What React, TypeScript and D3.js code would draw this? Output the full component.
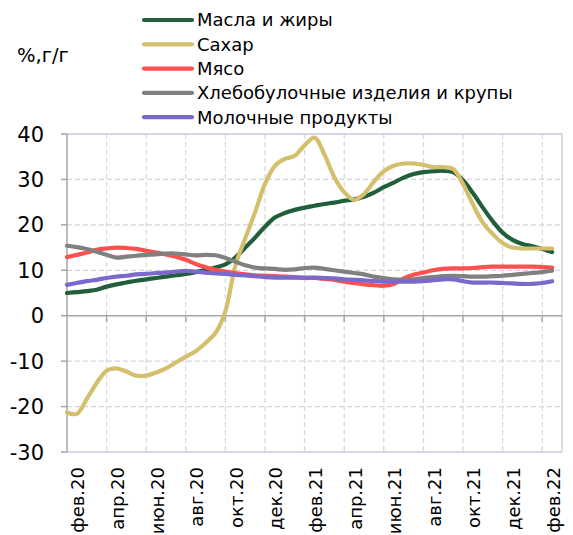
import React from "react";
import * as d3 from "d3";

const W = 573;
const H = 535;

// time index: 0 = фев.20, sampled every half month
const T = d3.range(-0.5, 24.01, 0.5);

const monthLabels = ["фев.20","апр.20","июн.20","авг.20","окт.20","дек.20","фев.21","апр.21","июн.21","авг.21","окт.21","дек.21","фев.22"];
const yTicks = [-30, -20, -10, 0, 10, 20, 30, 40];

const oils = [5.0,5.2,5.4,5.7,6.4,6.9,7.3,7.7,8.0,8.3,8.6,8.9,9.2,9.6,10.1,10.6,11.3,12.8,15.0,17.2,19.6,21.6,22.6,23.3,23.8,24.2,24.6,24.9,25.3,25.6,26.2,27.1,28.3,29.3,30.4,31.2,31.6,31.8,31.9,31.6,29.8,27.0,23.8,20.8,18.3,16.7,15.8,15.3,14.7,14.0];
const sugar = [-21.3,-21.6,-18.3,-14.8,-12.1,-11.6,-12.3,-13.2,-13.2,-12.5,-11.6,-10.3,-9.0,-7.8,-6.0,-3.8,1.0,11.0,17.0,22.8,29.0,33.0,34.5,35.2,37.5,39.2,35.5,30.5,27.2,25.5,26.8,29.5,31.8,33.0,33.5,33.5,33.2,32.7,32.7,32.3,29.0,24.5,20.5,18.0,16.0,15.0,14.8,14.8,14.8,14.8];
const meat = [12.9,13.4,13.9,14.5,14.8,15.0,14.9,14.7,14.3,13.9,13.5,13.0,12.3,11.4,10.7,10.1,9.7,9.4,9.1,8.9,8.8,8.7,8.6,8.5,8.3,8.3,8.1,7.9,7.5,7.2,6.9,6.7,6.6,7.0,8.2,9.0,9.5,10.0,10.3,10.4,10.4,10.5,10.7,10.8,10.8,10.8,10.8,10.8,10.7,10.6];
const bread = [15.4,15.1,14.7,14.1,13.4,12.8,13.0,13.2,13.4,13.5,13.7,13.7,13.5,13.3,13.4,13.3,12.7,11.9,11.1,10.6,10.4,10.3,10.1,10.2,10.5,10.6,10.3,10.0,9.7,9.4,9.1,8.6,8.3,8.0,7.9,8.0,8.3,8.5,8.7,8.8,8.7,8.6,8.6,8.7,8.8,9.0,9.2,9.4,9.6,9.9];
const dairy = [6.8,7.2,7.6,7.9,8.3,8.6,8.8,9.1,9.2,9.4,9.5,9.7,9.9,9.7,9.5,9.3,9.2,9.0,8.9,8.7,8.5,8.4,8.4,8.4,8.4,8.4,8.3,8.2,8.0,7.9,7.8,7.6,7.5,7.5,7.5,7.5,7.6,7.8,8.0,8.0,7.6,7.3,7.3,7.3,7.2,7.1,7.0,7.0,7.2,7.6];

const seriesNames = ["Масла и жиры", "Сахар", "Мясо", "Хлебобулочные изделия и крупы", "Молочные продукты"];
const seriesValues = [oils, sugar, meat, bread, dairy];
const seriesColors = ["#215E3B", "#D4BF6C", "#FF5050", "#808080", "#7B68CC"];

const FONT = "'DejaVu Sans', 'Open Sans', sans-serif";

export default function App() {
  const left = 67, right = 562, top = 134, bottom = 452;
  const x = d3.scaleLinear().domain([-0.5, 24.5]).range([left, right]);
  const y = d3.scaleLinear().domain([-30, 40]).range([bottom, top]);
  const line = d3.line<number>()
    .x((_, i) => x(T[i]))
    .y((d) => y(d))
    .curve(d3.curveCatmullRom.alpha(0.5));

  const gridX = d3.range(0, 13).map((k) => -0.5 + 2 * k);

  return (
    <svg width={W} height={H} style={{ position: "absolute", left: 0, top: 0, background: "#fff" }}
      fontFamily={FONT}>
      {/* horizontal dashed grid */}
      {yTicks.filter((v) => v !== 0 && v !== -30 && v !== 40).map((v) => (
        <line key={"h" + v} x1={left} x2={right} y1={y(v)} y2={y(v)} stroke="#CED5E4" strokeWidth={1.3} strokeDasharray="5,3" />
      ))}
      {/* vertical dashed grid */}
      {gridX.slice(1).map((t) => (
        <line key={"v" + t} x1={x(t)} x2={x(t)} y1={top} y2={bottom} stroke="#D9D9D9" strokeWidth={1.3} strokeDasharray="5,3" />
      ))}
      {/* plot border */}
      <line x1={left} x2={right} y1={top} y2={top} stroke="#CCC6DA" strokeWidth={1.3} />
      <line x1={right} x2={right} y1={top} y2={bottom} stroke="#CCC6DA" strokeWidth={1.3} />
      <line x1={left} x2={right} y1={bottom} y2={bottom} stroke="#CCC6DA" strokeWidth={1.3} />
      {/* zero axis with ticks */}
      <line x1={left} x2={right} y1={y(0)} y2={y(0)} stroke="#A6A6A6" strokeWidth={1.5} />
      {gridX.slice(1).map((t) => (
        <line key={"xt" + t} x1={x(t)} x2={x(t)} y1={y(0)} y2={y(0) + 6} stroke="#A6A6A6" strokeWidth={1.5} />
      ))}
      {/* y axis */}
      <line x1={left} x2={left} y1={top} y2={bottom} stroke="#A6A6A6" strokeWidth={1.5} />
      {yTicks.map((v) => (
        <g key={"yt" + v}>
          <line x1={left - 6} x2={left} y1={y(v)} y2={y(v)} stroke="#A6A6A6" strokeWidth={1.5} />
          <text x={44} y={y(v)} dy="0.36em" textAnchor="end" fontSize={21} fill="#000">{v}</text>
        </g>
      ))}
      {/* x labels */}
      {monthLabels.map((lab, k) => (
        <text key={lab} transform={`translate(${x(2 * k) + 1},467) rotate(-90)`} textAnchor="end" dy="0.36em" fontSize={18} fill="#000">{lab}</text>
      ))}
      {/* series */}
      {seriesValues.map((vals, i) => (
        <path key={seriesNames[i]} d={line(vals) || ""} fill="none" stroke={seriesColors[i]} strokeWidth={4.2} strokeLinejoin="round" strokeLinecap="round" />
      ))}
      {/* unit */}
      <text x={17} y={62} fontSize={19.5} fill="#000">%,г/г</text>
      {/* legend */}
      {seriesNames.map((name, i) => {
        const ly = 20 + i * 24.3;
        return (
          <g key={"lg" + i}>
            <line x1={144} x2={192} y1={ly} y2={ly} stroke={seriesColors[i]} strokeWidth={4.2} strokeLinecap="round" />
            <text x={197} y={ly} dy="0.36em" fontSize={18} fill="#000">{name}</text>
          </g>
        );
      })}
    </svg>
  );
}
